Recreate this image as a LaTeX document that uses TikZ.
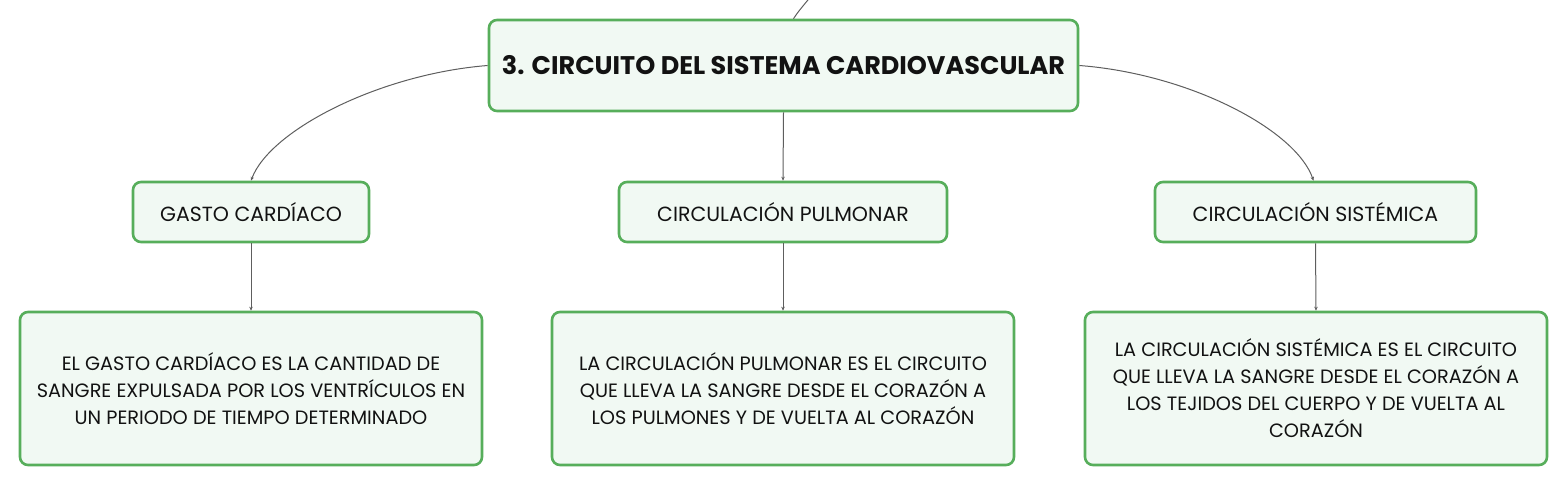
\documentclass[tikz,border=0pt]{standalone}
\usepackage{fontspec}
\setmainfont{Poppins}
\usetikzlibrary{arrows.meta}
\definecolor{bordergreen}{HTML}{57AE5B}
\definecolor{fillgreen}{HTML}{F1F9F3}
\definecolor{linegray}{HTML}{5E5E5E}
\begin{document}
\begin{tikzpicture}[x=1pt,y=1pt,
  box/.style={draw=bordergreen,fill=fillgreen,line width=2.6pt,rounded corners=8pt,inner sep=0pt,align=center,text=black!93},
  mainbox/.style={box,minimum width=589pt,minimum height=91pt,font=\fontsize{25.5}{30}\selectfont\bfseries},
  midbox/.style={box,minimum height=60pt,font=\fontsize{20.5}{24}\selectfont},
  lowbox/.style={box,minimum width=462pt,minimum height=153pt,font=\fontsize{19.3}{27}\selectfont},
  conn/.style={draw=linegray,line width=1pt,-{Stealth[length=4pt,width=3.5pt]}},
  plain/.style={draw=linegray,line width=1pt}]
\useasboundingbox (0,0) rectangle (1567,-486);
\node[mainbox] (main) at (783.5,-65.5) {3. CIRCUITO DEL SISTEMA CARDIOVASCULAR};
\node[midbox,minimum width=236pt] (gasto) at (251,-212) {GASTO CARDÍACO};
\node[midbox,minimum width=328pt] (pulm) at (783,-212) {CIRCULACIÓN PULMONAR};
\node[midbox,minimum width=321pt] (sist) at (1315.5,-212) {CIRCULACIÓN SISTÉMICA};
\node[lowbox] (gastotxt) at (251,-388.5) {EL GASTO CARDÍACO ES LA CANTIDAD DE\\SANGRE EXPULSADA POR LOS VENTRÍCULOS EN\\UN PERIODO DE TIEMPO DETERMINADO};
\node[lowbox] (pulmtxt) at (783,-388.5) {LA CIRCULACIÓN PULMONAR ES EL CIRCUITO\\QUE LLEVA LA SANGRE DESDE EL CORAZÓN A\\LOS PULMONES Y DE VUELTA AL CORAZÓN};
\node[lowbox] (sisttxt) at (1316,-388.5) {LA CIRCULACIÓN SISTÉMICA ES EL CIRCUITO\\QUE LLEVA LA SANGRE DESDE EL CORAZÓN A\\LOS TEJIDOS DEL CUERPO Y DE VUELTA AL\\CORAZÓN};
\coordinate (parent) at (812,5);
\draw[plain] ([xshift=10pt]main.north) .. controls (798,-12) .. (parent);
\draw[conn] (main.west) .. controls (380,-74) and (270,-130) .. (gasto.north);
\draw[conn] (main.east) .. controls (1190,-74) and (1296,-130) .. ([xshift=-2pt]sist.north);
\draw[conn] (main.south) -- (pulm.north);
\draw[conn] (gasto.south) -- (gastotxt.north);
\draw[conn] (pulm.south) -- (pulmtxt.north);
\draw[conn] (sist.south) -- (sisttxt.north);
\end{tikzpicture}
\end{document}
